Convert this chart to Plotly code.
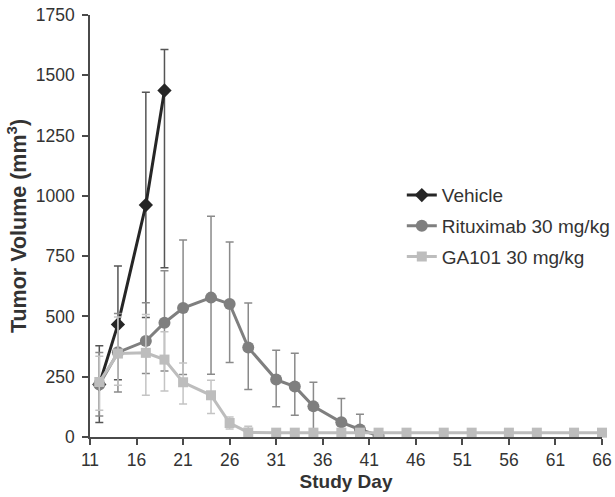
import plotly.graph_objects as go

# ---- data ----
vehicle_days = [12, 14, 17, 19]
vehicle_vol = [218, 467, 962, 1437]
vehicle_err_up = [160, 242, 468, 170]
vehicle_err_dn = [158, 230, 466, 735]

ritux_days = [12, 14, 17, 19, 21, 24, 26, 28, 31, 33, 35, 38, 40, 42]
ritux_vol = [218, 351, 398, 474, 535, 578, 552, 371, 238, 209, 127, 61, 31, 5]
ritux_err_up = [132, 161, 159, 215, 282, 337, 257, 185, 122, 138, 100, 99, 63, 0]
ritux_err_dn = [131, 164, 135, 200, 276, 318, 243, 174, 113, 119, 100, 99, 63, 0]

ga_days = [12, 14, 17, 19, 21, 24, 26, 28, 31, 33, 35, 38, 40, 42, 45, 49, 52, 56, 59, 63, 66]
ga_vol = [228, 346, 349, 321, 227, 173, 58, 19, 18, 18, 18, 18, 18, 18, 18, 18, 18, 18, 18, 18, 18]
ga_err_up = [107, 152, 159, 115, 80, 62, 25, 26, 0, 0, 0, 0, 0, 0, 0, 0, 0, 0, 0, 0, 0]
ga_err_dn = [117, 131, 176, 130, 90, 76, 25, 10, 0, 0, 0, 0, 0, 0, 0, 0, 0, 0, 0, 0, 0]

x_ticks = [11, 16, 21, 26, 31, 36, 41, 46, 51, 56, 61, 66]
y_ticks = [0, 250, 500, 750, 1000, 1250, 1500, 1750]

FONT = "Liberation Sans, Arial, Helvetica, sans-serif"
AXIS_COLOR = "#4a4a4a"
TEXT_COLOR = "#333333"

fig = go.Figure()

fig.add_trace(go.Scatter(
    x=vehicle_days, y=vehicle_vol, name="Vehicle", mode="lines+markers", legendgroup="v",
    line=dict(color="#262626", width=3),
    marker=dict(symbol="diamond", size=11, color="#262626"),
    error_y=dict(type="data", symmetric=False, array=vehicle_err_up, arrayminus=vehicle_err_dn,
                 color="#555555", thickness=1.5, width=4),
    cliponaxis=False,
))
fig.add_trace(go.Scatter(
    x=ritux_days, y=ritux_vol, name="Rituximab 30 mg/kg", mode="lines+markers", legendgroup="r",
    line=dict(color="#7f7f7f", width=3),
    marker=dict(symbol="circle", size=12, color="#7f7f7f"),
    error_y=dict(type="data", symmetric=False, array=ritux_err_up, arrayminus=ritux_err_dn,
                 color="#8a8a8a", thickness=1.5, width=4),
    cliponaxis=True,
))
fig.add_trace(go.Scatter(
    x=ga_days, y=ga_vol, name="GA101 30 mg/kg", mode="lines+markers", legendgroup="g",
    line=dict(color="#bdbdbd", width=3),
    marker=dict(symbol="square", size=10, color="#bdbdbd"),
    error_y=dict(type="data", symmetric=False, array=ga_err_up, arrayminus=ga_err_dn,
                 color="#c4c4c4", thickness=1.5, width=4),
    cliponaxis=False,
))

fig.update_layout(
    width=615, height=497,
    margin=dict(l=90, r=13, t=15, b=60, autoexpand=False),
    paper_bgcolor="white", plot_bgcolor="white",
    font=dict(family=FONT, size=17, color=TEXT_COLOR),
    showlegend=True,
    legend=dict(x=0.609, y=0.618, xanchor="left", yanchor="top",
                traceorder="grouped", tracegroupgap=3,
                font=dict(family=FONT, size=19, color=TEXT_COLOR),
                bgcolor="rgba(0,0,0,0)", borderwidth=0),
    xaxis=dict(
        range=[11, 66], tickmode="array", tickvals=x_ticks,
        showgrid=False, zeroline=False, automargin=False,
        showline=True, linecolor=AXIS_COLOR, linewidth=1.5,
        ticks="outside", ticklen=6, tickwidth=1.5, tickcolor=AXIS_COLOR,
        ticklabeloverflow="allow",
        tickfont=dict(family=FONT, size=17.5, color=TEXT_COLOR),
        title=dict(text="<b>Study Day</b>", font=dict(family=FONT, size=19, color=TEXT_COLOR), standoff=6),
    ),
    yaxis=dict(
        range=[0, 1750], tickmode="array", tickvals=y_ticks,
        showgrid=False, zeroline=False, automargin=False,
        showline=True, linecolor=AXIS_COLOR, linewidth=1.5,
        ticks="outside", ticklen=6, tickwidth=1.5, tickcolor=AXIS_COLOR,
        ticklabelstandoff=4, ticklabeloverflow="allow",
        tickfont=dict(family=FONT, size=17.5, color=TEXT_COLOR),
        title=dict(text="<b>Tumor Volume (mm<sup>3</sup>)</b>", font=dict(family=FONT, size=21.5, color=TEXT_COLOR), standoff=3),
    ),
)

# remove the browser's default 8 px body margin so the figure fills the window exactly
fig.write_html("out.html", config={"displayModeBar": False},
               post_script="document.body.style.margin='0';")
